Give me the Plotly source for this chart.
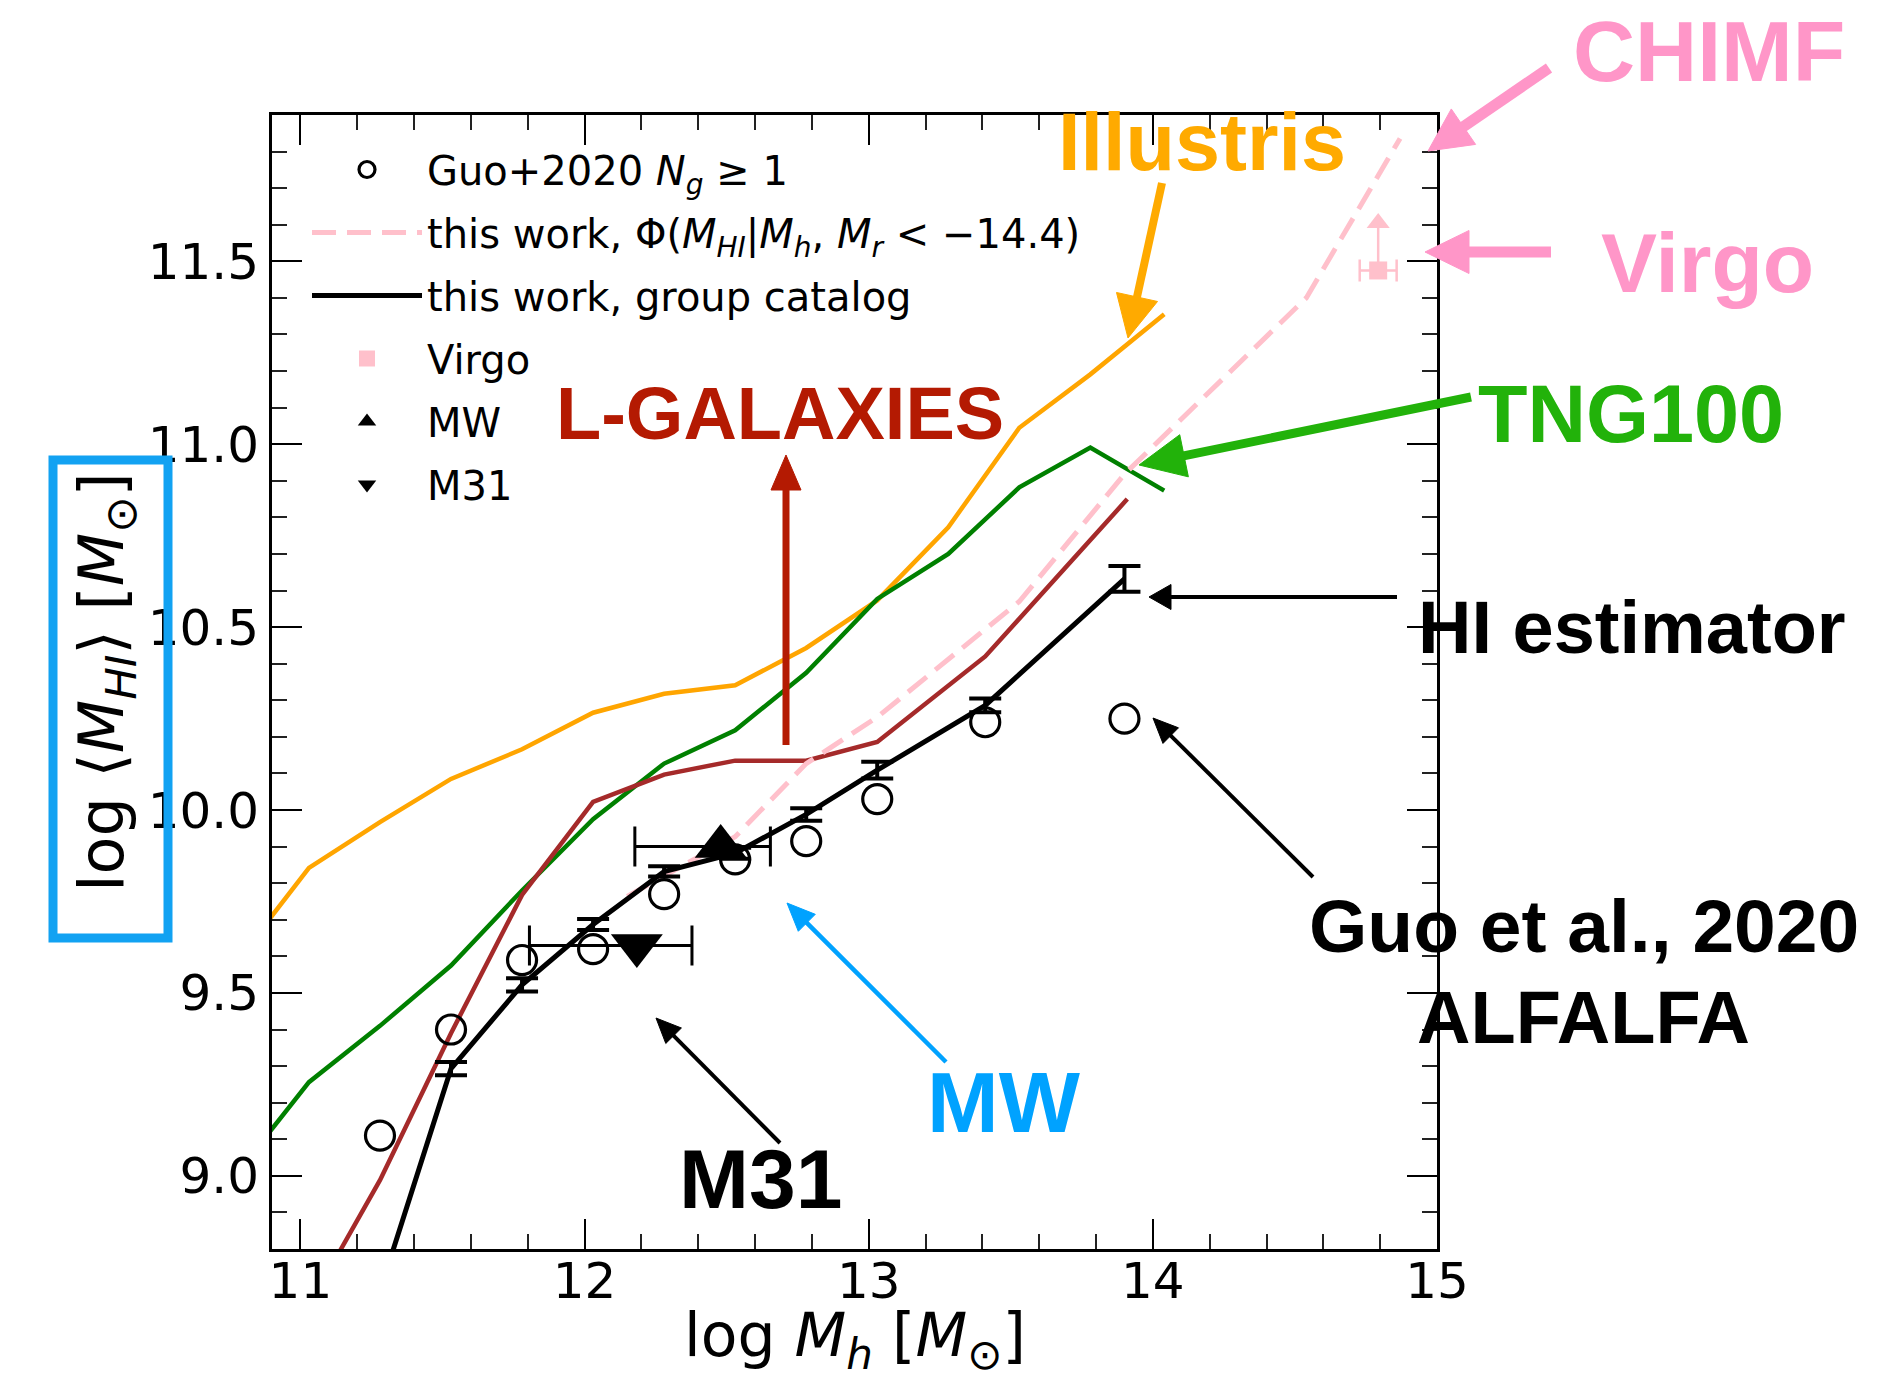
import plotly.graph_objects as go

# ---------------- data ----------------
# Guo+2020 ALFALFA stacking (N_g >= 1)
guo_x = [11.28, 11.53, 11.78, 12.03, 12.28, 12.53, 12.78, 13.03, 13.41, 13.90]
guo_y = [9.11, 9.40, 9.59, 9.62, 9.77, 9.865, 9.915, 10.03, 10.24, 10.25]

# this work, group catalog (HI estimator)
grp_x = [11.28, 11.53, 11.78, 12.03, 12.28, 12.53, 12.78, 13.03, 13.41, 13.90]
grp_y = [8.685, 9.293, 9.522, 9.687, 9.832, 9.882, 9.988, 10.109, 10.286, 10.632]
grp_err = [0.03, 0.018, 0.018, 0.015, 0.014, 0.015, 0.017, 0.023, 0.019, 0.035]

# this work, conditional HI mass function
chimf_x = [12.15, 12.53, 12.78, 13.03, 13.53, 13.90, 14.54, 14.87]
chimf_y = [9.764, 9.927, 10.127, 10.254, 10.57, 10.918, 11.40, 11.836]

# simulations / semi-analytic models
ill_x = [10.78, 11.03, 11.28, 11.53, 11.78, 12.03, 12.28, 12.53, 12.78, 13.03, 13.28, 13.53, 13.78, 14.04]
ill_y = [9.59, 9.842, 9.967, 10.085, 10.166, 10.266, 10.318, 10.341, 10.443, 10.573, 10.773, 11.045, 11.191, 11.355]

tng_x = [10.78, 11.03, 11.28, 11.53, 11.78, 12.03, 12.28, 12.53, 12.78, 13.03, 13.28, 13.53, 13.78, 14.04]
tng_y = [9.01, 9.256, 9.41, 9.575, 9.78, 9.975, 10.127, 10.218, 10.375, 10.577, 10.70, 10.882, 10.991, 10.873]

lgal_x = [11.03, 11.28, 11.53, 11.78, 12.03, 12.28, 12.53, 12.78, 13.03, 13.41, 13.91]
lgal_y = [8.645, 8.988, 9.39, 9.768, 10.022, 10.097, 10.135, 10.135, 10.186, 10.42, 10.85]

# individual systems
mw_x, mw_y, mw_xlo, mw_xhi = 12.479, 9.90, 0.302, 0.175
m31_x, m31_y, m31_xlo, m31_xhi = 12.184, 9.630, 0.378, 0.194
virgo_x, virgo_y, virgo_xerr, virgo_lim = 14.793, 11.475, 0.065, 0.13

# tick labels
x_ticks = [11, 12, 13, 14, 15]
y_ticks = [9.0, 9.5, 10.0, 10.5, 11.0, 11.5]

# ---------------- figure ----------------
W, H = 1896, 1378
L, R, T, B = 272, 1437, 115, 1249   # plot-area edges in px


def px(x):
    return (x - L) / (R - L)


def py(y):
    return (B - y) / (B - T)


fig = go.Figure()

fig.add_trace(go.Scatter(x=ill_x, y=ill_y, mode="lines", showlegend=False,
                         line=dict(color="#FFA500", width=4.5)))
fig.add_trace(go.Scatter(x=tng_x, y=tng_y, mode="lines", showlegend=False,
                         line=dict(color="#008000", width=4.5)))
fig.add_trace(go.Scatter(x=lgal_x, y=lgal_y, mode="lines", showlegend=False,
                         line=dict(color="#A52A2A", width=4.5)))

fig.add_trace(go.Scatter(
    x=chimf_x, y=chimf_y, mode="lines",
    name="this work, Φ(<i>M<sub>HI</sub></i>|<i>M<sub>h</sub></i>, <i>M<sub>r</sub></i> &lt; −14.4)",
    legendgroup="g2", legendrank=2,
    line=dict(color="#FFC0CB", width=5, dash="24px,11px")))

fig.add_trace(go.Scatter(
    x=grp_x, y=grp_y, mode="lines", name="this work, group catalog",
    legendgroup="g3", legendrank=3,
    line=dict(color="black", width=5),
    error_y=dict(type="data", array=grp_err, color="black", thickness=4, width=16)))

fig.add_trace(go.Scatter(
    x=guo_x, y=guo_y, mode="markers", name="Guo+2020 <i>N<sub>g</sub></i> ≥ 1",
    legendgroup="g1", legendrank=1,
    marker=dict(symbol="circle-open", size=29, color="black", line=dict(width=3.2, color="black"))))

fig.add_trace(go.Scatter(
    x=[mw_x], y=[mw_y], mode="markers", name="MW",
    legendgroup="g5", legendrank=5,
    marker=dict(symbol="triangle-up", size=45, color="black"),
    error_x=dict(type="data", symmetric=False, array=[mw_xhi], arrayminus=[mw_xlo],
                 color="black", thickness=3, width=20)))

fig.add_trace(go.Scatter(
    x=[m31_x], y=[m31_y], mode="markers", name="M31",
    legendgroup="g6", legendrank=6,
    marker=dict(symbol="triangle-down", size=45, color="black"),
    error_x=dict(type="data", symmetric=False, array=[m31_xhi], arrayminus=[m31_xlo],
                 color="black", thickness=3, width=20)))

fig.add_trace(go.Scatter(
    x=[virgo_x], y=[virgo_y], mode="markers", name="Virgo",
    legendgroup="g4", legendrank=4,
    marker=dict(symbol="square", size=18, color="#FFC0CB"),
    error_x=dict(type="data", array=[virgo_xerr], color="#FFC0CB", thickness=2.5, width=11),
    error_y=dict(type="data", symmetric=False, array=[virgo_lim], arrayminus=[0],
                 color="#FFC0CB", thickness=2.5, width=0)))
# lower-limit arrowhead
fig.add_trace(go.Scatter(
    x=[virgo_x], y=[virgo_y + virgo_lim], mode="markers", showlegend=False,
    marker=dict(symbol="triangle-up", size=20, color="#FFC0CB")))

# ---------------- callouts ----------------
shapes = []


def arrow(tail, tip, lw, hl, hw, color):
    tx, ty = tail
    hx, hy = tip
    dx, dy = hx - tx, hy - ty
    n = (dx * dx + dy * dy) ** 0.5
    ux, uy = dx / n, dy / n
    bx, by = hx - ux * hl, hy - uy * hl
    nx, ny = -uy, ux
    sx, sy = hx - ux * hl * 0.8, hy - uy * hl * 0.8
    shapes.append(dict(type="line", xref="paper", yref="paper",
                       x0=px(tx), y0=py(ty), x1=px(sx), y1=py(sy),
                       line=dict(color=color, width=lw)))
    c1 = (bx + nx * hw / 2, by + ny * hw / 2)
    c2 = (bx - nx * hw / 2, by - ny * hw / 2)
    path = "M{:.5f},{:.5f} L{:.5f},{:.5f} L{:.5f},{:.5f} Z".format(
        px(hx), py(hy), px(c1[0]), py(c1[1]), px(c2[0]), py(c2[1]))
    shapes.append(dict(type="path", xref="paper", yref="paper", path=path,
                       fillcolor=color, line=dict(color=color, width=1)))


PINK = "#FF96C8"
ORANGE = "#FFAA00"
DARKRED = "#B41A02"
BRIGHTGREEN = "#22B20A"
BLUE = "#00A2FF"

arrow((1549, 68), (1428, 151), 11, 43, 43, PINK)
arrow((1551, 252), (1425, 252), 11, 44, 43, PINK)
arrow((1162, 183), (1128, 338), 8, 42, 42, ORANGE)
arrow((786, 745), (786, 455), 7, 35, 30, DARKRED)
arrow((1471, 397), (1139, 465), 9, 46, 43, BRIGHTGREEN)
arrow((1397, 597), (1149, 597), 4, 22, 25, "black")
arrow((1313, 877), (1153, 718), 4, 25, 22, "black")
arrow((946, 1062), (787, 903), 4.5, 28, 24, BLUE)
arrow((780, 1143), (656, 1018), 4, 25, 22, "black")

# box around the y-axis title
shapes.append(dict(type="rect", xref="paper", yref="paper",
                   x0=px(53), x1=px(168), y0=py(938), y1=py(460),
                   line=dict(color="#12A2F2", width=9), layer="above"))

annotations = []


def label(text, x, y, size, color):
    annotations.append(dict(
        text="<b>" + text + "</b>", xref="paper", yref="paper",
        x=px(x), y=py(y), xanchor="center", yanchor="middle", showarrow=False,
        font=dict(family="Liberation Sans, Arial, sans-serif", size=size, color=color)))


label("CHIMF", 1709, 51, 86, PINK)
label("Virgo", 1707, 263, 84, PINK)
label("Illustris", 1202, 142, 81, ORANGE)
label("L-GALAXIES", 780, 413, 74, DARKRED)
label("TNG100", 1631, 414, 81, BRIGHTGREEN)
label("HI estimator", 1632, 627, 74, "black")
label("Guo et al., 2020", 1584, 926, 75, "black")
label("ALFALFA", 1583, 1017, 74, "black")
label("MW", 1004, 1102, 86, BLUE)
label("M31", 760, 1179, 84, "black")

# x-axis title, set just below the tick labels
annotations.append(dict(
    text="log <i>M<sub>h</sub></i> [<i>M</i><sub>⊙</sub>]", xref="paper", yref="paper",
    x=0.5, y=py(1339), xanchor="center", yanchor="middle", showarrow=False,
    font=dict(family="DejaVu Sans", size=60, color="black")))

axis_common = dict(
    showgrid=False, zeroline=False, showline=True, linecolor="black", linewidth=3,
    mirror="ticks", ticks="inside", ticklen=30, tickwidth=2.2, tickcolor="black",
    tickfont=dict(family="DejaVu Sans", size=50, color="black"),
    automargin=False,
)

fig.update_layout(
    width=W, height=H,
    margin=dict(l=L, r=W - R, t=T, b=H - B),
    paper_bgcolor="white", plot_bgcolor="white",
    font=dict(family="DejaVu Sans", color="black"),
    xaxis=dict(
        range=[10.9, 15.0], tickvals=x_ticks, ticktext=[str(v) for v in x_ticks],
        ticklabelstandoff=-14,
        minor=dict(ticks="inside", ticklen=15, tickwidth=1.6, tickcolor="#222", dtick=0.2, tick0=11),
        **axis_common),
    yaxis=dict(
        range=[8.8, 11.9], tickvals=y_ticks, ticktext=["{:.1f}".format(v) for v in y_ticks],
        minor=dict(ticks="inside", ticklen=15, tickwidth=1.6, tickcolor="#222", dtick=0.1, tick0=9.0),
        title=dict(text="log ⟨<i>M<sub>HI</sub></i>⟩ [<i>M</i><sub>⊙</sub>]",
                   font=dict(family="DejaVu Sans", size=62), standoff=4),
        **axis_common),
    legend=dict(
        x=px(307), y=py(137), xanchor="left", yanchor="top",
        bgcolor="rgba(0,0,0,0)", borderwidth=0,
        font=dict(family="DejaVu Sans", size=40, color="black"),
        traceorder="grouped", tracegroupgap=8, itemwidth=110,
    ),
    shapes=shapes,
    annotations=annotations,
)

fig.write_html("out.html")
